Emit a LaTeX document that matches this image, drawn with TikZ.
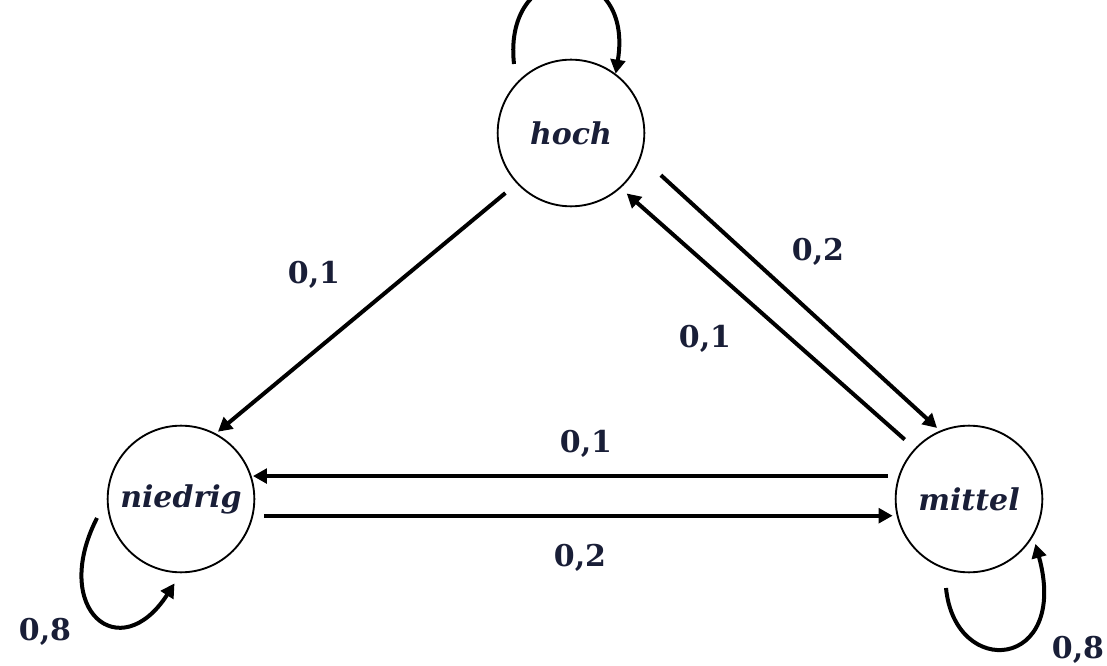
\documentclass[tikz,border=0pt]{standalone}
\usepackage{fontspec}
\setmainfont{DejaVu Serif}
\usetikzlibrary{arrows.meta}
\definecolor{txt}{RGB}{25,30,55}
\tikzset{
  state/.style={circle,draw=black,line width=1.4pt,minimum size=110pt,inner sep=0pt,
    font=\fontsize{22.5}{24}\selectfont\bfseries\itshape,text=txt},
  edge/.style={line width=3pt,-{Triangle[length=10.5pt,width=11pt]}},
  lbl/.style={font=\fontsize{22.5}{24}\selectfont\bfseries,text=txt}
}
\begin{document}
\begin{tikzpicture}[x=0.75pt,y=-0.75pt]
\useasboundingbox (0,0) rectangle (1107,666);
\node[state] (hoch) at (571,133) {hoch};
\node[state] (niedrig) at (181,499) {niedrig};
\node[state] (mittel) at (969,499) {mittel};
% straight edges
\draw[edge,shorten <=11pt,shorten >=2pt] (hoch.223) -- (niedrig.62);
\draw[edge,shorten <=20pt,shorten >=3pt] (hoch.341) -- (mittel.113);
\draw[edge,shorten <=10pt,shorten >=6pt] (mittel.137) -- (hoch.312);
\draw[edge,shorten <=8pt,shorten >=1pt] (mittel.162) -- (niedrig.18);
\draw[edge,shorten <=8pt,shorten >=3pt] (niedrig.-13) -- (mittel.193);
% loops
\coordinate (hs) at (514,64);
\coordinate (ns) at (97,518);
\coordinate (ms) at (946,588);
\draw[edge] (hs) .. controls (502,-45) and (635,-45) .. (hoch.53);
\draw[edge,shorten >=9pt] (ns) .. controls (50,610) and (120,668) .. (niedrig.270);
\draw[edge,shorten >=6pt] (ms) .. controls (955,680) and (1070,670) .. (mittel.-30);
% labels
\node[lbl] (l1) at (314,275) {0,1};
\node[lbl] (l2) at (818,252) {0,2};
\node[lbl] (l3) at (705,339) {0,1};
\node[lbl] (l4) at (586,444) {0,1};
\node[lbl] (l5) at (580,558) {0,2};
\node[lbl] (l6) at (45,632) {0,8};
\node[lbl] (l7) at (1078,650) {0,8};
\end{tikzpicture}
\end{document}
